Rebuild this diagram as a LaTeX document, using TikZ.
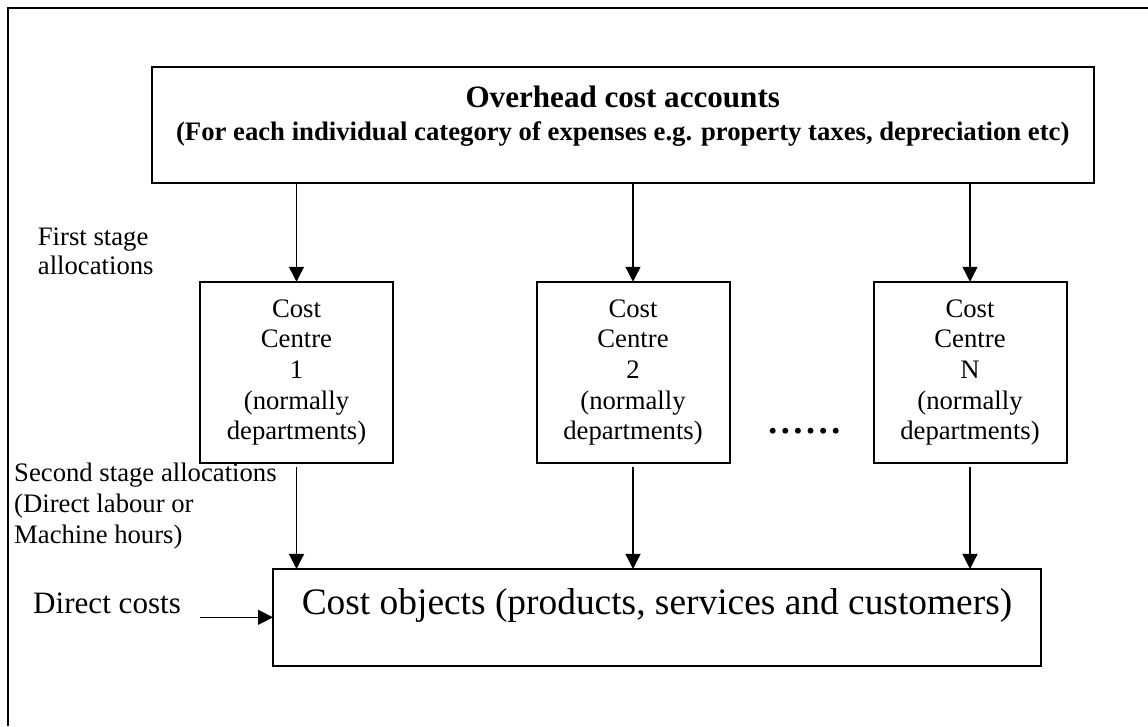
\documentclass[tikz,border=0pt]{standalone}
\usepackage{fontspec}
\setmainfont{Liberation Serif}
\usetikzlibrary{arrows.meta}

\newcommand{\twelve}{\fontsize{26.7pt}{30.6pt}\selectfont}

\begin{document}
\begin{tikzpicture}[x=1pt,y=-1pt,
  frameline/.style={line width=2pt},
  box/.style={draw, line width=2pt, inner sep=0pt, outer sep=0pt},
  flow/.style={-{Triangle[length=15pt,width=15pt]}, line width=1.4pt},
  centrebox/.style={box, minimum width=193pt, minimum height=181.5pt,
    align=center, font=\twelve},
  lbl/.style={inner sep=0pt, align=left, font=\twelve}
]
\useasboundingbox (0,0) rectangle (1148,726);

% outer frame (left and top edges)
\draw[frameline] (8,726) -- (8,8) -- (1148,8);

% overhead cost accounts
\node[box, minimum width=941.5pt, minimum height=115.7pt] (oh) at (622.75,124.85) {};
\node[anchor=base, inner sep=0pt, font=\fontsize{31.1pt}{34pt}\selectfont\bfseries]
  (ohtitle) at (622.75,107) {Overhead cost accounts};
\node[anchor=base, inner sep=0pt, font=\fontsize{26.7pt}{30pt}\selectfont\bfseries]
  (ohsub) at (622.75,140) {(For each individual category of expenses e.g. property taxes, depreciation etc)};

% cost centres
\node[centrebox] (cc1) at (296.5,372.5) {Cost\\Centre\\1\\(normally\\departments)};
\node[centrebox] (cc2) at (633,372.5) {Cost\\Centre\\2\\(normally\\departments)};
\node[centrebox] (ccn) at (970,372.5) {Cost\\Centre\\N\\(normally\\departments)};

% ellipsis between centre 2 and centre N
\foreach \k in {0,...,5}
  \fill (772.7+12.6*\k,430.7) circle (3pt);

% cost objects
\node[box, minimum width=768pt, minimum height=96.7pt] (co) at (657,617.3) {};
\node[anchor=base, inner sep=0pt, font=\fontsize{37.4pt}{40pt}\selectfont]
  (cotext) at (657,614) {Cost objects (products, services and customers)};

% side labels (base anchor sits on the last line)
\node[lbl, anchor=base west, font=\fontsize{26.7pt}{28.5pt}\selectfont]
  (first) at (37.7,274) {First stage\\allocations};
\node[lbl, anchor=base west, font=\fontsize{26.7pt}{30.6pt}\selectfont]
  (second) at (14,543) {Second stage allocations\\(Direct labour or\\Machine hours)};
\node[anchor=base west, inner sep=0pt, font=\fontsize{31.1pt}{34pt}\selectfont]
  (direct) at (33,613) {Direct costs};
\coordinate (dcstart) at (200,617.3);

% first stage allocations
\foreach \c in {cc1,cc2,ccn}
  \draw[flow] (\c.north |- oh.south) -- (\c.north);

% second stage allocations
\foreach \c in {cc1,cc2,ccn}
  \draw[flow, shorten <=3.5pt] (\c.south) -- (\c.south |- co.north);

% direct costs
\draw[flow] (dcstart) -- (co.west);
\end{tikzpicture}
\end{document}
